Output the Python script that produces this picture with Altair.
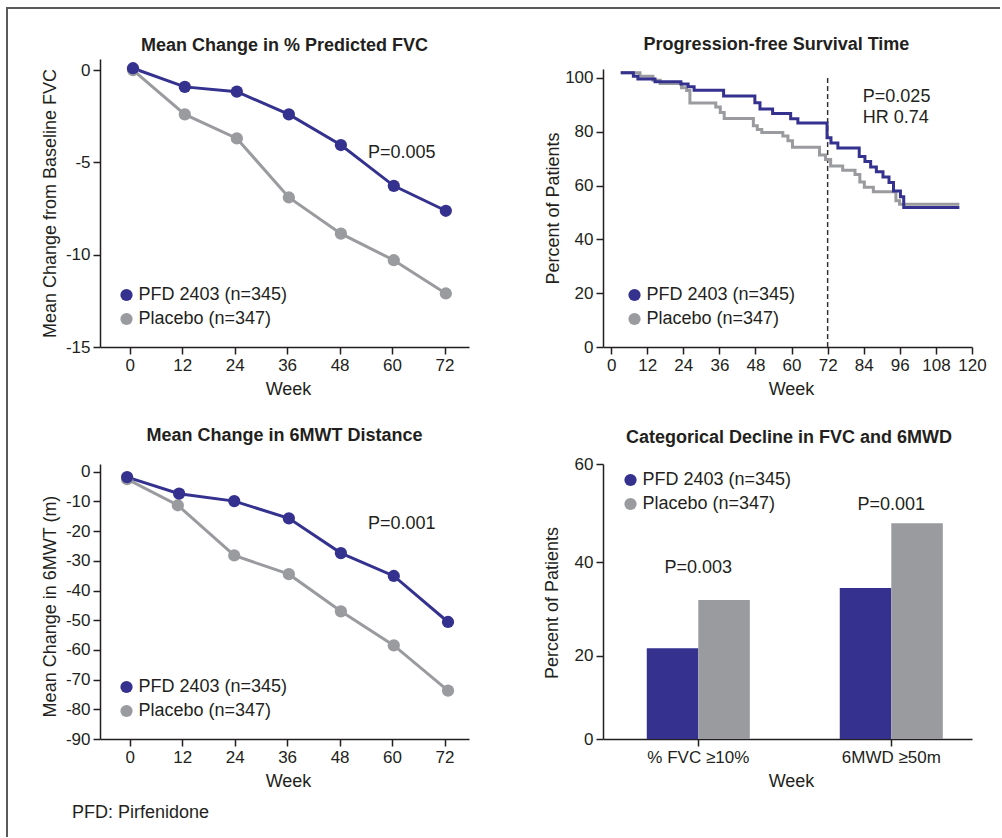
import altair as alt
import pandas as pd

BLUE = "#34318f"
GRAY = "#9a9b9f"
TEXT = "#231f20"
FRAME = "#5a5a5a"
FONT = "Liberation Sans"

SERIES = ["PFD 2403 (n=345)", "Placebo (n=347)"]
WEEK_TICKS = [0, 12, 24, 36, 48, 60, 72]
KM_TICKS = [0, 12, 24, 36, 48, 60, 72, 84, 96, 108, 120]

# Panel 1: Mean change in % predicted FVC
fvc_weeks = [0.75, 12.6, 24.5, 36.4, 48.3, 60.4, 72.3]
fvc_pfd = [0.1, -0.91, -1.17, -2.4, -4.06, -6.27, -7.62]
fvc_placebo = [0.0, -2.4, -3.7, -6.9, -8.86, -10.3, -12.1]

# Panel 2: Progression-free survival (step curves)
km_pfd_weeks = [3.2, 7.4, 8.9, 14.6, 23.2, 25.6, 27.6, 37.4, 47.8, 49.5, 53.7, 59.7, 62.1,
                71.8, 73.1, 75.4, 82.5, 84.4, 86.3, 88.2, 90.4, 92.4, 93.9, 96.2, 97.3, 115.8]
km_pfd_pct = [101.9, 100.6, 99.6, 98.6, 97.7, 96.7, 95.4, 93.3, 90.8, 88.4, 86.8, 84.8, 83.2,
              77.8, 75.8, 73.9, 70.8, 68.9, 66.9, 65.1, 63.2, 61.1, 58.0, 55.8, 51.8, 51.8]
km_placebo_weeks = [3.2, 9.6, 13.9, 16.3, 23.4, 25.1, 26.2, 34.8, 36.3, 37.6, 47.3, 48.6, 50.1,
                    57.1, 58.8, 60.3, 69.3, 71.3, 73.0, 77.0, 81.1, 82.7, 84.2, 87.2, 94.7, 95.9, 115.8]
km_placebo_pct = [101.9, 100.6, 99.1, 97.9, 96.3, 95.3, 90.7, 89.2, 87.1, 84.9, 82.2, 80.8, 79.7,
                  78.4, 76.6, 74.2, 71.3, 69.7, 67.3, 65.7, 64.1, 61.3, 59.4, 57.7, 54.3, 53.0, 53.0]
km_cutoff_week = [72]

# Panel 3: Mean change in 6MWT distance
mwt_weeks_pfd = [-0.6, 11.3, 23.9, 36.4, 48.3, 60.4, 72.8]
mwt_weeks_placebo = [-0.6, 11.0, 23.9, 36.4, 48.3, 60.4, 72.8]
mwt_pfd = [-1.8, -7.4, -9.9, -15.7, -27.4, -35.1, -50.6]
mwt_placebo = [-2.5, -11.3, -28.2, -34.5, -47.0, -58.5, -73.7]

# Panel 4: Categorical decline
categories = ["% FVC \u226510%", "6MWD \u226550m"]
cat_pfd = [21.7, 34.6]
cat_placebo = [32.1, 48.0]

# Annotations
ann1 = pd.DataFrame({"week": [54.5], "value": [-4.5], "label": ["P=0.005"]})
ann2 = pd.DataFrame({"week": [83.7, 83.7], "value": [92.9, 85.1], "label": ["P=0.025", "HR 0.74"]})
ann3 = pd.DataFrame({"week": [54.5], "value": [-17.6], "label": ["P=0.001"]})
ann4 = pd.DataFrame({"category": categories, "value": [38.8, 51.7], "label": ["P=0.003", "P=0.001"]})

color_scale = alt.Scale(domain=SERIES, range=[BLUE, GRAY])


def legend(x, y):
    return alt.Legend(orient="none", legendX=x, legendY=y, title=None, direction="vertical",
                      symbolType="circle", symbolSize=150, symbolStrokeWidth=0, symbolOpacity=1,
                      labelFontSize=18, labelFont=FONT, labelColor=TEXT, labelOffset=3,
                      rowPadding=6, padding=0, labelLimit=400)


def yaxis(values, title, title_y, title_x=-50):
    return alt.Axis(values=values, tickCount=30, title=title, titleX=title_x, titleY=title_y,
                    titleAngle=270, titleBaseline="middle", titleAlign="center",
                    labelOverlap=False, labelFlush=False)


def xaxis(values=None, title="Week"):
    kw = dict(title=title, titleX=188, titleY=42, titleBaseline="middle", titleAlign="center",
              labelAngle=0, labelOverlap=False, labelFlush=False)
    if values is not None:
        kw["values"] = values
        kw["tickCount"] = 30
    return alt.Axis(**kw)


def title(text, offset, dx=0, dy=0):
    return alt.TitleParams(text=text, fontSize=18, fontWeight="bold", font=FONT, color=TEXT,
                           anchor="middle", frame="group", baseline="middle",
                           offset=offset, dx=dx, dy=dy)


def line_layers(weeks_pfd, weeks_pl, vals_pfd, vals_pl, x_scale, y_scale, y_values,
                y_title, y_title_y, ann, leg):
    df = pd.DataFrame({
        "week": list(weeks_pl) + list(weeks_pfd),
        "value": list(vals_pl) + list(vals_pfd),
        "series": [SERIES[1]] * len(vals_pl) + [SERIES[0]] * len(vals_pfd),
    })
    base = alt.Chart(df)
    enc = dict(
        x=alt.X("week:Q", scale=x_scale, axis=xaxis(WEEK_TICKS)),
        y=alt.Y("value:Q", scale=y_scale, axis=yaxis(y_values, y_title, y_title_y)),
    )
    line_pl = base.transform_filter(alt.datum.series == SERIES[1]).mark_line(
        strokeWidth=3, color=GRAY).encode(**enc)
    line_pfd = base.transform_filter(alt.datum.series == SERIES[0]).mark_line(
        strokeWidth=3, color=BLUE).encode(**enc)
    pts = base.mark_circle(size=150, opacity=1).encode(
        color=alt.Color("series:N", scale=color_scale, legend=leg), **enc)
    txt = alt.Chart(ann).mark_text(align="left", baseline="middle", fontSize=18, font=FONT,
                                   color=TEXT).encode(x="week:Q", y="value:Q", text="label:N")
    return [line_pl, line_pfd, pts, txt]


# Frame (decoration) drawn in panel 1's coordinate space
frame_df = pd.DataFrame({"k": [0]})
frame_top = alt.Chart(frame_df).mark_rule(color=FRAME, strokeWidth=2).encode(
    x=alt.value(-93), x2=alt.value(900), y=alt.value(-51))
frame_left = alt.Chart(frame_df).mark_rule(color=FRAME, strokeWidth=2).encode(
    x=alt.value(-93), y=alt.value(-52), y2=alt.value(778))

l1 = line_layers(fvc_weeks, fvc_weeks, fvc_pfd, fvc_placebo,
                 alt.Scale(domain=[-6.8, 77.6], nice=False, zero=False),
                 alt.Scale(domain=[-15, 0.6], nice=False, zero=False),
                 [-15, -10, -5, 0], "Mean Change from Baseline FVC", 144,
                 ann1, legend(17.5, 227))
p1 = alt.layer(frame_top, frame_left, *l1).properties(
    width=369, height=288, title=title("Mean Change in % Predicted FVC", 15, dy=73))

l3 = line_layers(mwt_weeks_pfd, mwt_weeks_placebo, mwt_pfd, mwt_placebo,
                 alt.Scale(domain=[-6.8, 77.6], nice=False, zero=False),
                 alt.Scale(domain=[-90, 2.6], nice=False, zero=False),
                 list(range(-90, 1, 10)), "Mean Change in 6MWT (m)", 142,
                 ann3, legend(17.5, 214))
p3 = alt.layer(*l3).properties(width=369, height=275,
                               title=title("Mean Change in 6MWT Distance", 28, dy=19))

# Panel 2
km_df = pd.DataFrame({
    "week": km_placebo_weeks + km_pfd_weeks,
    "pct": km_placebo_pct + km_pfd_pct,
    "series": [SERIES[1]] * len(km_placebo_pct) + [SERIES[0]] * len(km_pfd_pct),
})
km_x = alt.X("week:Q", scale=alt.Scale(domain=[-2.7, 120], nice=False, zero=False), axis=xaxis(KM_TICKS))
km_y = alt.Y("pct:Q", scale=alt.Scale(domain=[0, 103.3], range=[288, 10], nice=False, zero=False),
             axis=yaxis([0, 20, 40, 60, 80, 100], "Percent of Patients", 149))
km_base = alt.Chart(km_df)
km_pl = km_base.transform_filter(alt.datum.series == SERIES[1]).mark_line(
    interpolate="step-after", strokeWidth=3, color=GRAY).encode(x=km_x, y=km_y)
km_pfd = km_base.transform_filter(alt.datum.series == SERIES[0]).mark_line(
    interpolate="step-after", strokeWidth=3, color=BLUE).encode(x=km_x, y=km_y)
# invisible carrier of the series legend (filled circle symbols like the other panels)
km_leg = km_base.mark_circle(size=150).encode(
    x=km_x, y=km_y, opacity=alt.value(0),
    color=alt.Color("series:N", scale=color_scale, legend=legend(22.5, 227)))
cut_df = pd.DataFrame({"week": km_cutoff_week, "lo": [0], "hi": [100]})
cut = alt.Chart(cut_df).mark_rule(color="#333333", strokeWidth=1.5, strokeDash=[5, 3]).encode(
    x="week:Q", y="lo:Q", y2="hi:Q")
txt2 = alt.Chart(ann2).mark_text(align="left", baseline="middle", fontSize=18, font=FONT,
                                 color=TEXT).encode(x="week:Q", y=alt.Y("value:Q"), text="label:N")
p2 = alt.layer(cut, km_pl, km_pfd, km_leg, txt2).properties(
    width=369, height=288, title=title("Progression-free Survival Time", 15, dx=-11, dy=19))

# Panel 4
bar_df = pd.DataFrame({
    "category": categories * 2,
    "pct": cat_pfd + cat_placebo,
    "series": [SERIES[0]] * 2 + [SERIES[1]] * 2,
})
bar_x = alt.X("category:N", sort=categories,
              scale=alt.Scale(domain=categories, paddingInner=0.466, paddingOuter=0.189, align=0.6),
              axis=xaxis())
bar_y = alt.Y("pct:Q", scale=alt.Scale(type="pow", exponent=1.09, domain=[0, 60], nice=False),
              axis=yaxis([0, 20, 40, 60], "Percent of Patients", 138.5, -51))
bars = alt.Chart(bar_df).mark_bar().encode(
    x=bar_x, y=bar_y,
    xOffset=alt.XOffset("series:N", sort=SERIES, scale=alt.Scale(domain=SERIES, paddingInner=0, paddingOuter=0)),
    color=alt.Color("series:N", scale=color_scale, legend=legend(18.5, 7)),
)
txt4 = alt.Chart(ann4).mark_text(align="center", baseline="middle", fontSize=18, font=FONT,
                                 color=TEXT).encode(
    x=alt.X("category:N", sort=categories), y=alt.Y("value:Q"), text="label:N")
p4 = alt.layer(bars, txt4).properties(
    width=369, height=275, title=title("Categorical Decline in FVC and 6MWD", 28, dx=1.5, dy=29))

chart = alt.concat(
    p1, p2, p3, p4, columns=2, spacing={"row": 117, "column": 134}, bounds="flush", align="all",
).resolve_legend(color="independent").properties(
    padding={"left": 6, "top": 6, "right": 0, "bottom": 0},
    title=alt.TitleParams(text="PFD: Pirfenidone", orient="bottom", anchor="start", frame="group",
                          fontSize=18, fontWeight="normal", font=FONT, color=TEXT,
                          baseline="middle", offset=0, dx=-28, dy=-25),
).configure(
    font=FONT,
).configure_view(
    stroke=None,
).configure_axis(
    domainColor=TEXT, domainWidth=1.5, tickColor=TEXT, tickWidth=1.5, tickSize=7,
    labelFontSize=17, labelColor=TEXT, labelPadding=3, labelFont=FONT,
    titleFontSize=18, titleFontWeight="normal", titleColor=TEXT, titleFont=FONT,
    grid=False, labelFlush=False, labelOverlap=False,
    labelExpr="'' + datum.value",
)

chart.save("out.html", embed_options={"renderer": "svg", "actions": False})
